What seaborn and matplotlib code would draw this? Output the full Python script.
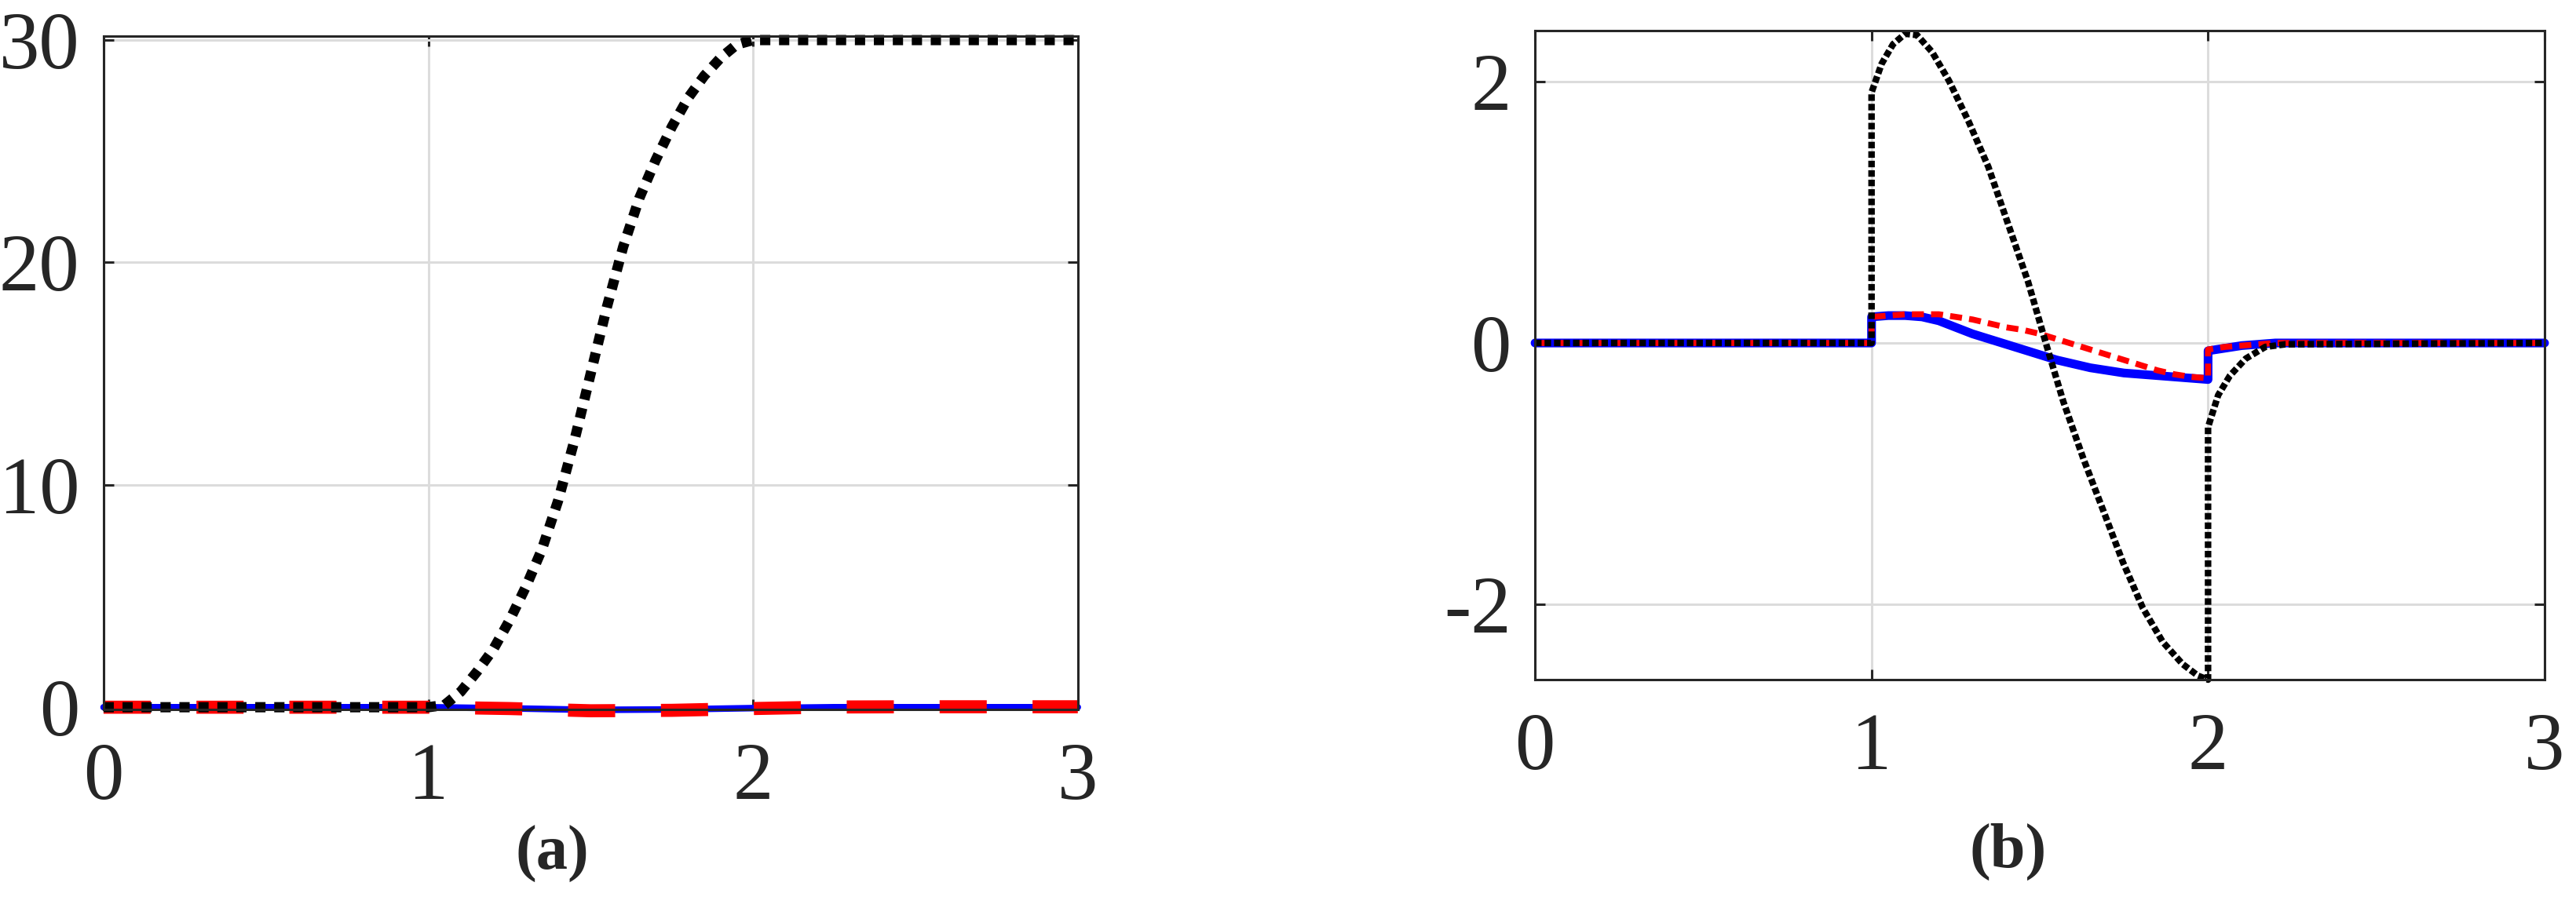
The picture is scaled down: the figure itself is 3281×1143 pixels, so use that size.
# two-panel response plot: (a) positions, (b) velocities
import numpy as np
import pandas as pd
import matplotlib
matplotlib.use("Agg")
import matplotlib.pyplot as plt
import seaborn as sns

# ---- panel (a) data ----
t_a_ref = [0.0, 1.0, 1.05, 1.1, 1.15, 1.2, 1.25, 1.3, 1.35, 1.4, 1.45, 1.5,
           1.55, 1.6, 1.65, 1.7, 1.75, 1.8, 1.85, 1.9, 1.95, 2.0, 3.0]
y_a_ref = [0.0, 0.0, 0.1, 0.7, 1.6, 2.6, 3.9, 5.4, 7.1, 9.3, 12.0, 15.0,
           18.0, 20.7, 22.9, 24.6, 26.1, 27.4, 28.4, 29.2, 29.8, 30.0, 30.0]
t_a_err = [0.0, 0.5, 1.0, 1.25, 1.5, 1.75, 2.0, 2.25, 2.5, 3.0]
y_a_blue = [0.0, 0.0, 0.0, -0.05, -0.12, -0.10, -0.04, 0.0, 0.0, 0.0]
y_a_red = [0.0, 0.0, 0.0, -0.06, -0.16, -0.14, -0.06, 0.01, 0.02, 0.02]

# ---- panel (b) data ----
t_b_ref = [0.0, 1.0, 1.0, 1.03, 1.064, 1.10, 1.135, 1.18, 1.23, 1.288, 1.347,
           1.406, 1.465, 1.519, 1.57, 1.63, 1.688, 1.747, 1.806, 1.865, 1.924,
           1.97, 2.0, 2.0, 2.03, 2.065, 2.112, 2.17, 2.23, 3.0]
y_b_ref = [0.0, 0.0, 1.92, 2.14, 2.29, 2.37, 2.36, 2.23, 2.01, 1.70, 1.35,
           0.91, 0.47, -0.01, -0.45, -0.89, -1.28, -1.68, -2.03, -2.29, -2.46,
           -2.55, -2.58, -0.645, -0.40, -0.25, -0.12, -0.03, -0.01, 0.0]
t_b_err = [0.0, 1.0, 1.0, 1.05, 1.1, 1.15, 1.2, 1.25, 1.3, 1.35, 1.4, 1.45,
           1.5, 1.55, 1.6, 1.65, 1.7, 1.75, 1.8, 1.85, 1.9, 1.95, 2.0, 2.0,
           2.05, 2.1, 2.15, 2.2, 3.0]
y_b_blue = [0.0, 0.0, 0.20, 0.21, 0.21, 0.20, 0.17, 0.12, 0.07, 0.03, -0.01,
            -0.05, -0.09, -0.13, -0.16, -0.19, -0.21, -0.23, -0.24, -0.25,
            -0.26, -0.27, -0.28, -0.06, -0.04, -0.02, -0.01, 0.0, 0.0]
y_b_red = [0.0, 0.0, 0.20, 0.21, 0.22, 0.22, 0.22, 0.20, 0.18, 0.15, 0.12,
           0.10, 0.07, 0.03, -0.01, -0.05, -0.09, -0.13, -0.17, -0.21, -0.24,
           -0.26, -0.27, -0.05, -0.03, -0.02, -0.01, 0.0, 0.0]

sns.set_theme(style="ticks")
plt.rcParams["font.family"] = ["Liberation Serif", "DejaVu Serif"]
plt.rcParams["axes.unicode_minus"] = False

INK = "#262626"
GRID = "#dcdcdc"


def style_axes(ax, yticks, ylim):
    ax.set_xlim(0, 3)
    ax.set_ylim(*ylim)
    ax.set_xticks([0, 1, 2, 3])
    ax.set_yticks(yticks)
    ax.set_axisbelow(True)
    ax.grid(True, color=GRID, linewidth=2.2)
    for sp in ax.spines.values():
        sp.set_visible(True)
        sp.set_color(INK)
        sp.set_linewidth(2.2)
    ax.tick_params(direction="in", length=9.5, width=2.2, color=INK,
                   labelsize=74, labelcolor=INK, top=True, right=True)
    ax.tick_params(axis="x", pad=30)
    ax.tick_params(axis="y", pad=22)
    ax.set_xlabel("")
    ax.set_ylabel("")


def draw(ax, t, y, color, lw, ls):
    df = pd.DataFrame({"t": t, "y": y})
    sns.lineplot(data=df, x="t", y="y", ax=ax, color=color, linewidth=lw,
                 estimator=None, sort=False, legend=False)
    line = ax.lines[-1]
    line.set_linestyle(ls)
    line.set_dash_capstyle("butt")
    line.set_clip_on(False)


fig = plt.figure(figsize=(32.81, 11.43), dpi=100)
ax_a = fig.add_axes([0.0402, 0.2091, 0.3782, 0.7507])
ax_b = fig.add_axes([0.5959, 0.2423, 0.3919, 0.7236])

draw(ax_a, t_a_err, y_a_blue, "#0000ff", 6.0, "-")
draw(ax_a, t_a_err, y_a_red, "#ff0000", 12.0, (0, (3.6, 3.5)))
draw(ax_a, t_a_ref, y_a_ref, "#000000", 9.4, (0, (1.0, 0.85)))
style_axes(ax_a, [0, 10, 20, 30], (-0.1, 30.18))

draw(ax_b, t_b_err, y_b_blue, "#0000ff", 8.0, "-")
draw(ax_b, t_b_err, y_b_red, "#ff0000", 5.5, (0, (2.0, 1.2)))
draw(ax_b, t_b_ref, y_b_ref, "#000000", 6.0, (0, (1.0, 0.45)))
style_axes(ax_b, [-2, 0, 2], (-2.58, 2.394))

fig.text(0.2143, 0.048, "(a)", ha="center", va="center", fontsize=58,
         fontweight="bold", color=INK)
fig.text(0.7796, 0.050, "(b)", ha="center", va="center", fontsize=58,
         fontweight="bold", color=INK)

fig.savefig("out.png", dpi=100)
